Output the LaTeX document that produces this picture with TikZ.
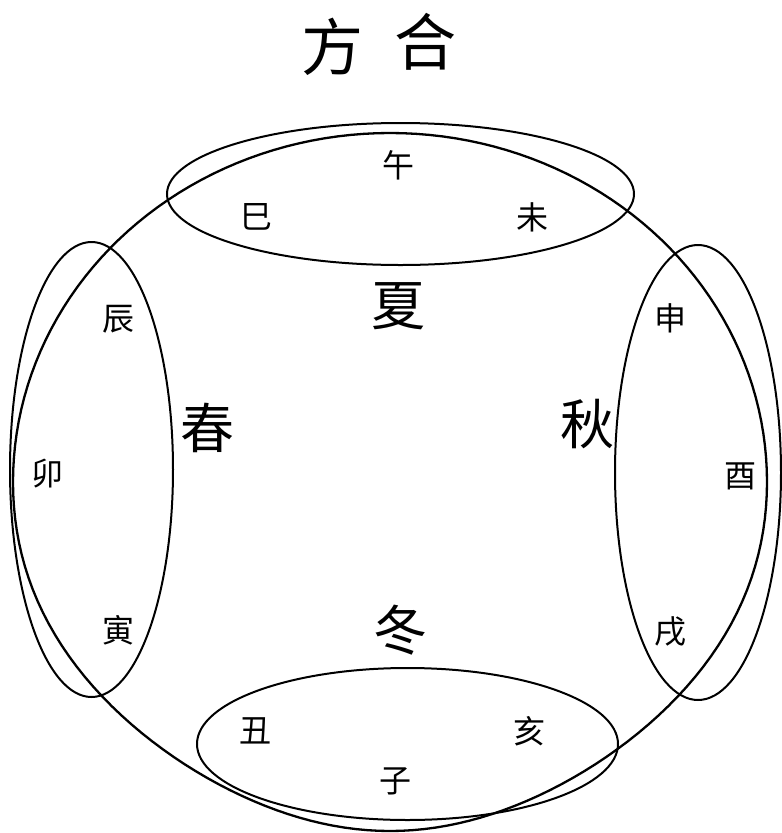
\documentclass[tikz,border=0pt]{standalone}
\usepackage{fontspec}
\newfontfamily\cjk{Noto Sans CJK SC}
\begin{document}
\begin{tikzpicture}[x=1pt,y=-1pt,
  lab/.style={font=\cjk\fontsize{32}{32}\selectfont, inner sep=0pt},
  season/.style={font=\cjk\fontsize{54}{54}\selectfont, inner sep=0pt},
  titlech/.style={font=\cjk\fontsize{62}{62}\selectfont, inner sep=0pt},
  ring/.style={draw=black, line width=2pt},
  mainring/.style={draw=black, line width=2.3pt, line join=round}]
\useasboundingbox (0,0) rectangle (782,833);
% title
\node[titlech] (t1) at (332,47) {方};
\node[titlech] (t2) at (425,42) {合};
% main ring (slightly narrower towards the bottom)
\draw[mainring] plot[domain=0:360, samples=181, variable=\t]
  ({390+377*cos(\t)*(1-0.14*(max(0,sin(\t)))^3)}, {482+349*sin(\t)}) -- cycle;
% group ellipses
\draw[ring] (400.5,194) ellipse [x radius=233.5, y radius=71];
\draw[ring] (91.5,469.5) ellipse [x radius=81.5, y radius=227.5];
\draw[ring] (698,472.5) ellipse [x radius=83, y radius=227.5];
\draw[ring] (407.5,744) ellipse [x radius=210.5, y radius=76];
% branches
\node[lab] (wu) at (398,165) {午};
\node[lab] (si) at (256,217) {巳};
\node[lab] (wei) at (532,217) {未};
\node[lab] (chen) at (118,319) {辰};
\node[lab] (mao) at (47,474) {卯};
\node[lab] (yin) at (118,630) {寅};
\node[lab] (shen) at (670,318) {申};
\node[lab] (you) at (740,476) {酉};
\node[lab] (xu) at (670,632) {戌};
\node[lab] (chou) at (255,731) {丑};
\node[lab] (hai) at (529,731) {亥};
\node[lab] (zi) at (395,781) {子};
% seasons
\node[season] (xia) at (398,306) {夏};
\node[season] (chun) at (207,428) {春};
\node[season] (qiu) at (587,424) {秋};
\node[season] (dong) at (400,630) {冬};
\end{tikzpicture}
\end{document}
